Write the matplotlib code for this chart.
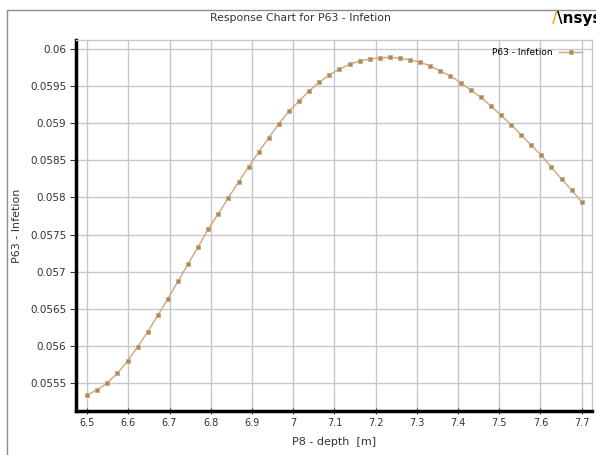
import numpy as np
import matplotlib
matplotlib.use("Agg")
import matplotlib.pyplot as plt

# P8 - depth [m], 50 design points
depth = np.linspace(6.5, 7.7, 50)
infection = [
    0.055342, 0.055406, 0.055504, 0.055631, 0.055796, 0.055989, 0.056187, 0.056412,
    0.056632, 0.056870, 0.057103, 0.057336, 0.057571, 0.057781, 0.057997, 0.058208,
    0.058414, 0.058612, 0.058805, 0.058994, 0.059161, 0.059299, 0.059437, 0.059551,
    0.059652, 0.059728, 0.059794, 0.059838, 0.059865, 0.059879, 0.059888, 0.059875,
    0.059852, 0.059821, 0.059771, 0.059704, 0.059636, 0.059546, 0.059448, 0.059349,
    0.059232, 0.059107, 0.058980, 0.058845, 0.058703, 0.058568, 0.058406, 0.058249,
    0.058100, 0.057939,
]
x_ticks = [6.5, 6.6, 6.7, 6.8, 6.9, 7.0, 7.1, 7.2, 7.3, 7.4, 7.5, 7.6, 7.7]
x_labels = ["6.5", "6.6", "6.7", "6.8", "6.9", "7", "7.1", "7.2", "7.3", "7.4", "7.5", "7.6", "7.7"]
y_ticks = [0.0555, 0.056, 0.0565, 0.057, 0.0575, 0.058, 0.0585, 0.059, 0.0595, 0.06]
y_labels = ["0.0555", "0.056", "0.0565", "0.057", "0.0575", "0.058", "0.0585", "0.059", "0.0595", "0.06"]

W, H = 596, 455
fig = plt.figure(figsize=(W / 100, H / 100), dpi=100)

# outer frame of the chart panel
frame = plt.Rectangle((7 / W, -0.01), 1.1, (H - 10) / H + 0.01, transform=fig.transFigure,
                      fill=False, edgecolor="#8c8c8c", linewidth=1)
fig.patches.append(frame)

ax = fig.add_axes([76 / W, (H - 410.7) / H, (592 - 76) / W, (410.7 - 40) / H])

ax.plot(depth, infection, color="#cfa67c", linewidth=1.0, marker="s", markersize=3.5,
        markerfacecolor="#ad885b", markeredgecolor="#c9a983", markeredgewidth=0.6,
        label="P63 - Infetion", zorder=3)

ax.set_xlim(6.473, 7.725)
ax.set_ylim(0.055127, 0.060121)
ax.set_xticks(x_ticks)
ax.set_xticklabels(x_labels)
ax.set_yticks(y_ticks)
ax.set_yticklabels(y_labels)
ax.tick_params(axis="both", labelsize=7.5, colors="#333333", length=4, width=0.8, pad=3)
ax.tick_params(axis="x", direction="inout", length=5, labelsize=7)
ax.grid(color="#c8c8c8", linewidth=1)

for side in ("left", "bottom"):
    ax.spines[side].set_linewidth(2.5)
    ax.spines[side].set_color("black")
for side in ("top", "right"):
    ax.spines[side].set_linewidth(1)
    ax.spines[side].set_color("#c8c8c8")

ax.set_xlabel("P8 - depth  [m]", fontsize=8, color="#333333", labelpad=6)
ax.set_ylabel("P63 - Infetion", fontsize=8, color="#333333", labelpad=6)

leg = ax.legend(loc="upper right", frameon=False, fontsize=6.5, markerfirst=False,
                handlelength=2.5, borderaxespad=0.3, bbox_to_anchor=(0.993, 0.995))

fig.text(300 / W, 1 - 18 / H, "Response Chart for P63 - Infetion", ha="center", va="center",
         fontsize=7.8, color="#333333")
fig.text(552 / W, 1 - 19 / H, "/", ha="left", va="center", fontsize=11, fontweight="bold",
         color="#f2b21b")
fig.text(557 / W, 1 - 19 / H, "\\nsys", ha="left", va="center", fontsize=11, fontweight="bold",
         color="black")

fig.savefig("out.png", dpi=100)
